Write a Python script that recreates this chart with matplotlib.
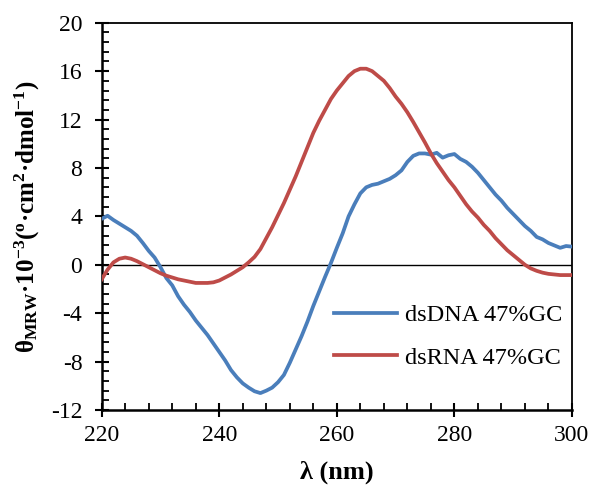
import numpy as np
import matplotlib
matplotlib.use("Agg")
import matplotlib.pyplot as plt
from matplotlib.ticker import MultipleLocator

plt.rcParams["font.family"] = ["Liberation Serif", "DejaVu Serif"]
plt.rcParams["axes.unicode_minus"] = False
plt.rcParams["mathtext.fontset"] = "custom"
plt.rcParams["mathtext.rm"] = "Liberation Serif"
plt.rcParams["mathtext.bf"] = "Liberation Serif:bold"
plt.rcParams["mathtext.it"] = "Liberation Serif:italic"

# wavelength (nm)
wavelength = list(range(220, 301))

# dsDNA 47%GC, theta_MRW x 1e-3
dsdna = [
    3.8, 4.05, 3.7, 3.4, 3.1, 2.8, 2.4, 1.8, 1.15, 0.6,
    -0.2, -1.1, -1.7, -2.6, -3.3, -3.9, -4.6, -5.2, -5.8, -6.5,
    -7.2, -7.9, -8.7, -9.3, -9.8, -10.15, -10.45, -10.6, -10.4, -10.15,
    -9.7, -9.1, -8.1, -7.0, -5.9, -4.7, -3.4, -2.2, -1.0, 0.15,
    1.4, 2.6, 4.0, 5.0, 5.9, 6.4, 6.6, 6.7, 6.9, 7.1,
    7.4, 7.8, 8.5, 9.0, 9.2, 9.2, 9.1, 9.25, 8.85, 9.05,
    9.15, 8.75, 8.5, 8.1, 7.6, 7.0, 6.4, 5.8, 5.3, 4.7,
    4.2, 3.7, 3.2, 2.8, 2.3, 2.1, 1.8, 1.6, 1.4, 1.55,
    1.5,
]

# dsRNA 47%GC
dsrna = [
    -1.2, -0.4, 0.2, 0.5, 0.6, 0.5, 0.3, 0.05, -0.2, -0.45,
    -0.7, -0.9, -1.05, -1.2, -1.3, -1.4, -1.5, -1.5, -1.5, -1.45,
    -1.3, -1.05, -0.8, -0.5, -0.2, 0.2, 0.65, 1.3, 2.2, 3.1,
    4.1, 5.1, 6.2, 7.3, 8.5, 9.7, 10.9, 11.9, 12.8, 13.7,
    14.4, 15.0, 15.6, 16.0, 16.2, 16.2, 16.0, 15.6, 15.2, 14.6,
    13.9, 13.3, 12.6, 11.8, 10.95, 10.1, 9.2, 8.4, 7.7, 7.0,
    6.4, 5.7, 5.0, 4.4, 3.9, 3.3, 2.8, 2.2, 1.7, 1.2,
    0.8, 0.4, 0.0, -0.3, -0.5, -0.65, -0.75, -0.8, -0.85, -0.85,
    -0.85,
]

labels = ["dsDNA 47%GC", "dsRNA 47%GC"]
colors = ["#4A7EBB", "#BE4B48"]

fig = plt.figure(figsize=(5.93, 4.94), dpi=100)
ax = fig.add_axes([0.1715, 0.17, 0.793, 0.784])

ax.axhline(0, color="black", lw=1.0, zorder=1)
ax.plot(wavelength, dsdna, color=colors[0], lw=2.7, label=labels[0], zorder=3)
ax.plot(wavelength, dsrna, color=colors[1], lw=2.7, label=labels[1], zorder=3)

ax.set_xlim(220, 300)
ax.set_ylim(-12, 20)
ax.xaxis.set_major_locator(MultipleLocator(20))
ax.xaxis.set_minor_locator(MultipleLocator(4))
ax.yaxis.set_major_locator(MultipleLocator(4))
ax.yaxis.set_minor_locator(MultipleLocator(0.8))

ax.tick_params(which="major", direction="inout", length=10, width=1.5,
               labelsize=17, colors="black")
ax.tick_params(axis="y", which="major", pad=9)
ax.tick_params(axis="x", which="major", pad=6)
ax.tick_params(which="minor", direction="in", length=5, width=1.3)
for s in ["left", "bottom"]:
    ax.spines[s].set_linewidth(1.8)
for s in ["top", "right"]:
    ax.spines[s].set_linewidth(1.3)

ax.set_xlabel("λ (nm)", fontsize=19, fontweight="bold", labelpad=10)
ax.set_ylabel(r"θ$_{\mathbf{MRW}}$·10$^{\mathbf{-3}}$($^{\mathbf{o}}$·cm$^{\mathbf{2}}$·dmol$^{\mathbf{-1}}$)",
              fontsize=18, fontweight="bold", labelpad=6)

ax.legend(loc="lower right", bbox_to_anchor=(1.025, 0.05), frameon=False,
          fontsize=17.5, handlelength=2.6, handletextpad=0.3, labelspacing=0.85)

fig.savefig("out.png", dpi=100, facecolor="white")
